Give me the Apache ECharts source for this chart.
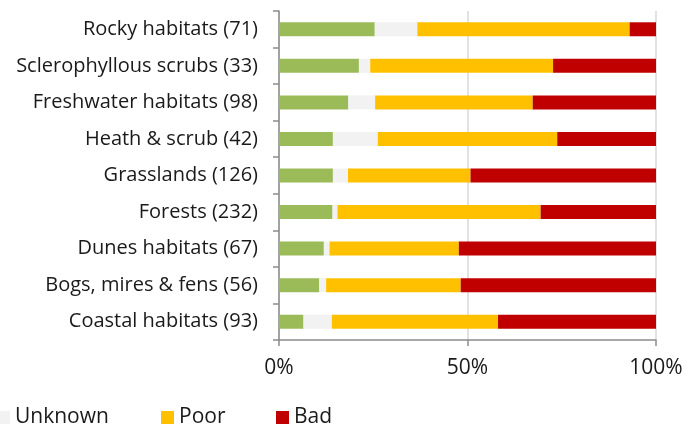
<!DOCTYPE html>
<html>
<head>
<meta charset="utf-8">
<script src="https://cdn.jsdelivr.net/npm/echarts@6/dist/echarts.min.js"></script>
<style>
html,body{margin:0;padding:0;background:#fff;}
#chart{width:689px;height:426px;}
</style>
</head>
<body>
<div id="chart"></div>
<script>
const categories = ['Rocky habitats (71)','Sclerophyllous scrubs (33)','Freshwater habitats (98)','Heath & scrub (42)','Grasslands (126)','Forests (232)','Dunes habitats (67)','Bogs, mires & fens (56)','Coastal habitats (93)'];
const good    = [25.4, 21.2, 18.4, 14.3, 14.3, 14.2, 11.9, 10.7, 6.5];
const unknown = [11.3,  3.0,  7.1, 11.9,  4.0,  1.3,  1.5,  1.8, 7.5];
const poor    = [56.3, 48.5, 41.8, 47.6, 32.5, 53.9, 34.3, 35.7, 44.1];
const bad     = [ 7.0, 27.3, 32.7, 26.2, 49.2, 30.6, 52.3, 51.8, 41.9];
const xTicks  = [0, 50, 100];

const FONT = '"Open Sans"';
const TXT = '#1a1a1a';
const chart = echarts.init(document.getElementById('chart'), null, {renderer:'canvas'});

function mkSeries(name, data, color){
  return {name, type:'bar', stack:'total', data, barWidth:14,
    itemStyle:{color}, emphasis:{disabled:true}, animation:false};
}
function mkLegend(name, left){
  return {data:[name], left, top:407, padding:0, itemWidth:13, itemHeight:13, itemGap:0,
    icon:'rect', textStyle:{fontFamily:FONT, fontSize:21, color:TXT}, selectedMode:false};
}

chart.setOption({
  animation:false,
  grid:{left:279, right:33, top:11, bottom:86, containLabel:false},
  xAxis:{type:'value', min:0, max:100, interval:50,
    axisLine:{show:true, lineStyle:{color:'#8c8c8c', width:1.5}},
    axisTick:{show:true, length:6, lineStyle:{color:'#8c8c8c', width:1.5}},
    splitLine:{show:true, lineStyle:{color:'#d9d9d9', width:1.5}},
    axisLabel:{fontFamily:FONT, fontSize:21, color:TXT, margin:18,
      formatter:v => xTicks.includes(v) ? v + '%' : ''}},
  yAxis:{type:'category', data:categories, inverse:true,
    axisLine:{show:true, lineStyle:{color:'#8c8c8c', width:1.5}},
    axisTick:{show:true, length:6, lineStyle:{color:'#8c8c8c', width:1.5}},
    axisLabel:{fontFamily:FONT, fontSize:20, color:TXT, margin:21}},
  legend:[mkLegend('Unknown', -3), mkLegend('Poor', 161), mkLegend('Bad', 276)],
  series:[
    mkSeries('Good', good, '#9bbb59'),
    mkSeries('Unknown', unknown, '#f2f2f2'),
    mkSeries('Poor', poor, '#ffc000'),
    mkSeries('Bad', bad, '#c00000')
  ]
});
</script>
</body>
</html>
